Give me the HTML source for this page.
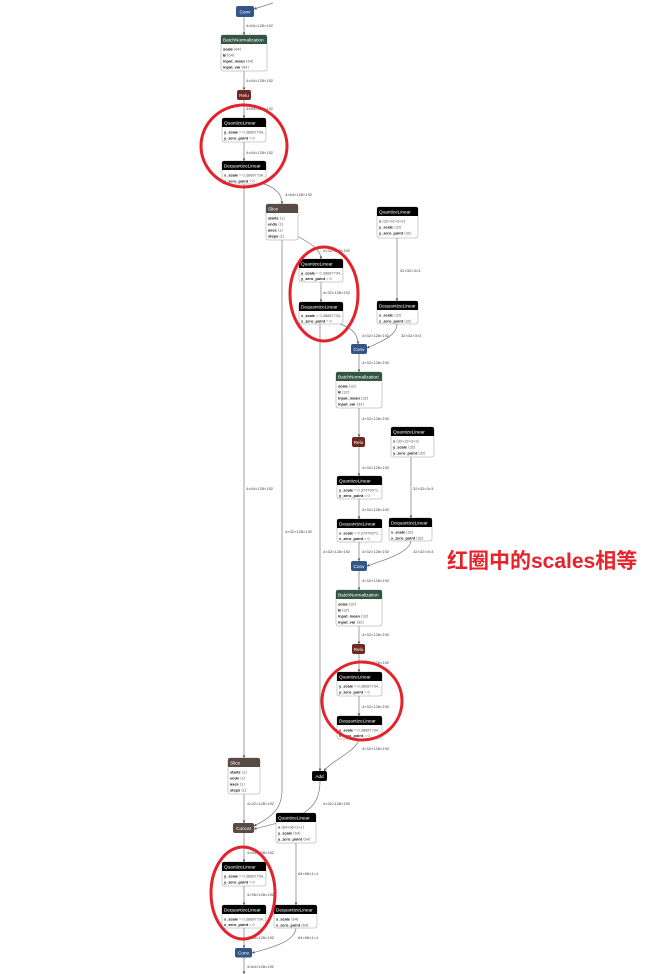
<!DOCTYPE html>
<html><head><meta charset="utf-8">
<style>
html,body{margin:0;padding:0;background:#fff;}
svg{display:block;}
.t{font-family:"Liberation Sans",sans-serif;font-size:4.7px;fill:#fff;}
.r{font-family:"Liberation Sans","DejaVu Sans",sans-serif;font-size:3.9px;fill:#111;font-weight:bold;}
.v{fill:#555;font-weight:normal;}
.l{font-family:"Liberation Sans","DejaVu Sans",sans-serif;font-size:4px;fill:#444;}
.e{fill:none;stroke:#777;stroke-width:0.7;}
.o{fill:#fff;stroke:#999;stroke-width:0.5;}
.c{fill:none;stroke:#e4222b;stroke-width:3;}
</style></head><body>
<svg width="651" height="974" viewBox="0 0 651 974" xmlns="http://www.w3.org/2000/svg">
<defs>
<marker id="a" viewBox="0 0 6 6" refX="5.5" refY="3" markerWidth="4" markerHeight="4" orient="auto"><path d="M0,0 L6,3 L0,6 Z" fill="#555"/></marker>
</defs>
<rect width="651" height="974" fill="#fff"/>

<!-- edges -->
<g class="e" marker-end="url(#a)">
<path d="M273 3 L254 9"/>
<path d="M244 17 V35"/>
<path d="M244 71 V90"/>
<path d="M244 100 V118"/>
<path d="M244 142 V161"/>
<path d="M244 184 V758"/>
<path d="M264 184 C276 188 282 194 282 204"/>
<path d="M282 240 V790 C282 810 270 818 254 826"/>
<path d="M297 236 C312 244 321 250 321 259"/>
<path d="M321 282 V302"/>
<path d="M320 324 V771"/>
<path d="M340 324 C352 328 358 334 358 344"/>
<path d="M397 238 V301"/>
<path d="M397 324 C397 336 380 342 367 348"/>
<path d="M359 354 V372"/>
<path d="M359 408 V437"/>
<path d="M359 447 V476"/>
<path d="M359 499 V519"/>
<path d="M359 542 V561"/>
<path d="M411 457 V518"/>
<path d="M411 541 C410 552 385 560 367 566"/>
<path d="M359 571 V590"/>
<path d="M359 626 V644"/>
<path d="M359 654 V672"/>
<path d="M359 696 V716"/>
<path d="M359 739 C356 752 332 760 324 771"/>
<path d="M320 781 C320 812 300 818 254 829"/>
<path d="M244 794 V823"/>
<path d="M244 833 V862"/>
<path d="M244 885 V905"/>
<path d="M244 928 V948"/>
<path d="M296 842 V905"/>
<path d="M296 928 C295 942 270 948 252 953"/>
<path d="M244 957 V974"/>
</g>

<!-- edge labels -->
<g class="l">
<text x="246" y="27">4×64×128×192</text>
<text x="246" y="82">4×64×128×192</text>
<text x="246" y="110">4×64×128×192</text>
<text x="246" y="154">4×64×128×192</text>
<text x="285" y="196">4×64×128×192</text>
<text x="323" y="252">4×32×128×192</text>
<text x="323" y="294">4×32×128×192</text>
<text x="400" y="272">32×32×3×3</text>
<text x="362" y="337">4×32×128×192</text>
<text x="401" y="337">32×32×3×3</text>
<text x="362" y="364">4×32×128×192</text>
<text x="362" y="420">4×32×128×192</text>
<text x="362" y="469">4×32×128×192</text>
<text x="362" y="511">4×32×128×192</text>
<text x="413" y="490">32×32×3×3</text>
<text x="246" y="490">4×64×128×192</text>
<text x="285" y="533">4×32×128×192</text>
<text x="323" y="553">4×32×128×192</text>
<text x="362" y="553">4×32×128×192</text>
<text x="413" y="553">32×32×3×3</text>
<text x="362" y="582">4×32×128×192</text>
<text x="362" y="636">4×32×128×192</text>
<text x="362" y="664">4×32×128×192</text>
<text x="362" y="708">4×32×128×192</text>
<text x="362" y="750">4×32×128×192</text>
<text x="247" y="805">4×32×128×192</text>
<text x="323" y="805">4×32×128×192</text>
<text x="247" y="854">4×64×128×192</text>
<text x="247" y="896">4×96×128×192</text>
<text x="298" y="875">64×96×1×1</text>
<text x="247" y="939">4×64×128×192</text>
<text x="298" y="939">64×96×1×1</text>
<text x="247" y="968">4×64×128×192</text>
</g>

<!-- simple nodes -->
<g>
<rect x="236" y="6" width="18" height="11" rx="2" fill="#335588"/><text class="t" x="245" y="13.3" text-anchor="middle">Conv</text>
<rect x="237" y="90" width="14" height="10" rx="2" fill="#702921"/><text class="t" x="244" y="96.8" text-anchor="middle">Relu</text>
<rect x="351" y="344" width="16" height="10" rx="2" fill="#335588"/><text class="t" x="359" y="350.8" text-anchor="middle">Conv</text>
<rect x="352" y="437" width="13" height="10" rx="2" fill="#702921"/><text class="t" x="358.5" y="443.8" text-anchor="middle">Relu</text>
<rect x="351" y="561" width="16" height="10" rx="2" fill="#335588"/><text class="t" x="359" y="567.8" text-anchor="middle">Conv</text>
<rect x="352" y="644" width="13" height="10" rx="2" fill="#702921"/><text class="t" x="358.5" y="650.8" text-anchor="middle">Relu</text>
<rect x="312" y="771" width="15" height="10" rx="2" fill="#000"/><text class="t" x="319.5" y="777.8" text-anchor="middle">Add</text>
<rect x="233" y="823" width="21" height="10" rx="2" fill="#594a44"/><text class="t" x="243.5" y="829.8" text-anchor="middle">Concat</text>
<rect x="235" y="948" width="17" height="9.5" rx="2" fill="#335588"/><text class="t" x="243.5" y="954.5" text-anchor="middle">Conv</text>
</g>

<!-- BN1 -->
<g transform="translate(221,35)">
<rect class="o" width="46" height="36" rx="2"/>
<path d="M0,9 V2 Q0,0 2,0 H44 Q46,0 46,2 V9 Z" fill="#335544"/>
<text class="t" x="2" y="6.6">BatchNormalization</text>
<text class="r" x="2" y="15.5">scale <tspan class="v">⟨64⟩</tspan></text>
<text class="r" x="2" y="21.5">B <tspan class="v">⟨64⟩</tspan></text>
<text class="r" x="2" y="27.5">input_mean <tspan class="v">⟨64⟩</tspan></text>
<text class="r" x="2" y="33.5">input_var <tspan class="v">⟨64⟩</tspan></text>
</g>
<!-- QL1 -->
<g transform="translate(222,118)">
<rect class="o" width="44" height="24" rx="2"/>
<path d="M0,9 V2 Q0,0 2,0 H42 Q44,0 44,2 V9 Z" fill="#000"/>
<text class="t" x="2" y="6.6">QuantizeLinear</text>
<text class="r" x="2" y="15.5">y_scale <tspan class="v">= 0.38687734...</tspan></text>
<text class="r" x="2" y="21.5">y_zero_point <tspan class="v">= 0</tspan></text>
</g>
<!-- DQL1 -->
<g transform="translate(222,161)">
<rect class="o" width="44" height="23" rx="2"/>
<path d="M0,9 V2 Q0,0 2,0 H42 Q44,0 44,2 V9 Z" fill="#000"/>
<text class="t" x="2" y="6.6">DequantizeLinear</text>
<text class="r" x="2" y="15.5">x_scale <tspan class="v">= 0.38687734...</tspan></text>
<text class="r" x="2" y="21.5">x_zero_point <tspan class="v">= 0</tspan></text>
</g>
<!-- Slice1 -->
<g transform="translate(266,204)">
<rect class="o" width="32" height="36" rx="2"/>
<path d="M0,9 V2 Q0,0 2,0 H30 Q32,0 32,2 V9 Z" fill="#594a44"/>
<text class="t" x="2" y="6.6">Slice</text>
<text class="r" x="2" y="15.5">starts <tspan class="v">⟨1⟩</tspan></text>
<text class="r" x="2" y="21.5">ends <tspan class="v">⟨1⟩</tspan></text>
<text class="r" x="2" y="27.5">axes <tspan class="v">⟨1⟩</tspan></text>
<text class="r" x="2" y="33.5">steps <tspan class="v">⟨1⟩</tspan></text>
</g>
<!-- QLr1 -->
<g transform="translate(377,207)">
<rect class="o" width="41" height="31" rx="2"/>
<path d="M0,9 V2 Q0,0 2,0 H39 Q41,0 41,2 V9 Z" fill="#000"/>
<text class="t" x="2" y="6.6">QuantizeLinear</text>
<text class="r" x="2" y="15.5">x <tspan class="v">⟨32×32×3×3⟩</tspan></text>
<text class="r" x="2" y="21.5">y_scale <tspan class="v">⟨32⟩</tspan></text>
<text class="r" x="2" y="27.5">y_zero_point <tspan class="v">⟨32⟩</tspan></text>
</g>
<!-- QL2 -->
<g transform="translate(299,259)">
<rect class="o" width="44" height="23" rx="2"/>
<path d="M0,9 V2 Q0,0 2,0 H42 Q44,0 44,2 V9 Z" fill="#000"/>
<text class="t" x="2" y="6.6">QuantizeLinear</text>
<text class="r" x="2" y="15.5">y_scale <tspan class="v">= 0.38687734...</tspan></text>
<text class="r" x="2" y="21">y_zero_point <tspan class="v">= 0</tspan></text>
</g>
<!-- DQL2 -->
<g transform="translate(299,302)">
<rect class="o" width="44" height="22" rx="2"/>
<path d="M0,9 V2 Q0,0 2,0 H42 Q44,0 44,2 V9 Z" fill="#000"/>
<text class="t" x="2" y="6.6">DequantizeLinear</text>
<text class="r" x="2" y="15">x_scale <tspan class="v">= 0.38687734...</tspan></text>
<text class="r" x="2" y="20.5">x_zero_point <tspan class="v">= 0</tspan></text>
</g>
<!-- DQLr1 -->
<g transform="translate(377,301)">
<rect class="o" width="41" height="23" rx="2"/>
<path d="M0,9 V2 Q0,0 2,0 H39 Q41,0 41,2 V9 Z" fill="#000"/>
<text class="t" x="2" y="6.6">DequantizeLinear</text>
<text class="r" x="2" y="15.5">x_scale <tspan class="v">⟨32⟩</tspan></text>
<text class="r" x="2" y="21.5">x_zero_point <tspan class="v">⟨32⟩</tspan></text>
</g>
<!-- BN2 -->
<g transform="translate(336,372)">
<rect class="o" width="46" height="36" rx="2"/>
<path d="M0,9 V2 Q0,0 2,0 H44 Q46,0 46,2 V9 Z" fill="#335544"/>
<text class="t" x="2" y="6.6">BatchNormalization</text>
<text class="r" x="2" y="15.5">scale <tspan class="v">⟨32⟩</tspan></text>
<text class="r" x="2" y="21.5">B <tspan class="v">⟨32⟩</tspan></text>
<text class="r" x="2" y="27.5">input_mean <tspan class="v">⟨32⟩</tspan></text>
<text class="r" x="2" y="33.5">input_var <tspan class="v">⟨32⟩</tspan></text>
</g>
<!-- QLr2 -->
<g transform="translate(391,427)">
<rect class="o" width="43" height="30" rx="2"/>
<path d="M0,9 V2 Q0,0 2,0 H41 Q43,0 43,2 V9 Z" fill="#000"/>
<text class="t" x="2" y="6.6">QuantizeLinear</text>
<text class="r" x="2" y="15.5">x <tspan class="v">⟨32×32×3×3⟩</tspan></text>
<text class="r" x="2" y="21.5">y_scale <tspan class="v">⟨32⟩</tspan></text>
<text class="r" x="2" y="27.5">y_zero_point <tspan class="v">⟨32⟩</tspan></text>
</g>
<!-- QL3 -->
<g transform="translate(337,476)">
<rect class="o" width="45" height="23" rx="2"/>
<path d="M0,9 V2 Q0,0 2,0 H43 Q45,0 45,2 V9 Z" fill="#000"/>
<text class="t" x="2" y="6.6">QuantizeLinear</text>
<text class="r" x="2" y="15.5">y_scale <tspan class="v">= 0.37479071...</tspan></text>
<text class="r" x="2" y="21">y_zero_point <tspan class="v">= 0</tspan></text>
</g>
<!-- DQL3 -->
<g transform="translate(337,519)">
<rect class="o" width="45" height="23" rx="2"/>
<path d="M0,9 V2 Q0,0 2,0 H43 Q45,0 45,2 V9 Z" fill="#000"/>
<text class="t" x="2" y="6.6">DequantizeLinear</text>
<text class="r" x="2" y="15.5">x_scale <tspan class="v">= 0.37479071...</tspan></text>
<text class="r" x="2" y="21">x_zero_point <tspan class="v">= 0</tspan></text>
</g>
<!-- DQLr2 -->
<g transform="translate(389,518)">
<rect class="o" width="43" height="23" rx="2"/>
<path d="M0,9 V2 Q0,0 2,0 H41 Q43,0 43,2 V9 Z" fill="#000"/>
<text class="t" x="2" y="6.6">DequantizeLinear</text>
<text class="r" x="2" y="15.5">x_scale <tspan class="v">⟨32⟩</tspan></text>
<text class="r" x="2" y="21.5">x_zero_point <tspan class="v">⟨32⟩</tspan></text>
</g>
<!-- BN3 -->
<g transform="translate(336,590)">
<rect class="o" width="46" height="36" rx="2"/>
<path d="M0,9 V2 Q0,0 2,0 H44 Q46,0 46,2 V9 Z" fill="#335544"/>
<text class="t" x="2" y="6.6">BatchNormalization</text>
<text class="r" x="2" y="15.5">scale <tspan class="v">⟨32⟩</tspan></text>
<text class="r" x="2" y="21.5">B <tspan class="v">⟨32⟩</tspan></text>
<text class="r" x="2" y="27.5">input_mean <tspan class="v">⟨32⟩</tspan></text>
<text class="r" x="2" y="33.5">input_var <tspan class="v">⟨32⟩</tspan></text>
</g>
<!-- QL4 -->
<g transform="translate(337,672)">
<rect class="o" width="45" height="24" rx="2"/>
<path d="M0,9 V2 Q0,0 2,0 H43 Q45,0 45,2 V9 Z" fill="#000"/>
<text class="t" x="2" y="6.6">QuantizeLinear</text>
<text class="r" x="2" y="15.5">y_scale <tspan class="v">= 0.38687734...</tspan></text>
<text class="r" x="2" y="21.5">y_zero_point <tspan class="v">= 0</tspan></text>
</g>
<!-- DQL4 -->
<g transform="translate(337,716)">
<rect class="o" width="45" height="23" rx="2"/>
<path d="M0,9 V2 Q0,0 2,0 H43 Q45,0 45,2 V9 Z" fill="#000"/>
<text class="t" x="2" y="6.6">DequantizeLinear</text>
<text class="r" x="2" y="15.5">x_scale <tspan class="v">= 0.38687734...</tspan></text>
<text class="r" x="2" y="21">x_zero_point <tspan class="v">= 0</tspan></text>
</g>
<!-- Slice2 -->
<g transform="translate(228,758)">
<rect class="o" width="32" height="36" rx="2"/>
<path d="M0,9 V2 Q0,0 2,0 H30 Q32,0 32,2 V9 Z" fill="#594a44"/>
<text class="t" x="2" y="6.6">Slice</text>
<text class="r" x="2" y="15.5">starts <tspan class="v">⟨1⟩</tspan></text>
<text class="r" x="2" y="21.5">ends <tspan class="v">⟨1⟩</tspan></text>
<text class="r" x="2" y="27.5">axes <tspan class="v">⟨1⟩</tspan></text>
<text class="r" x="2" y="33.5">steps <tspan class="v">⟨1⟩</tspan></text>
</g>
<!-- QLc -->
<g transform="translate(276,813)">
<rect class="o" width="40" height="30" rx="2"/>
<path d="M0,9 V2 Q0,0 2,0 H38 Q40,0 40,2 V9 Z" fill="#000"/>
<text class="t" x="2" y="6.6">QuantizeLinear</text>
<text class="r" x="2" y="15.5">x <tspan class="v">⟨64×96×1×1⟩</tspan></text>
<text class="r" x="2" y="21.5">y_scale <tspan class="v">⟨64⟩</tspan></text>
<text class="r" x="2" y="27.5">y_zero_point <tspan class="v">⟨64⟩</tspan></text>
</g>
<!-- QL5 -->
<g transform="translate(222,862)">
<rect class="o" width="44" height="24" rx="2"/>
<path d="M0,9 V2 Q0,0 2,0 H42 Q44,0 44,2 V9 Z" fill="#000"/>
<text class="t" x="2" y="6.6">QuantizeLinear</text>
<text class="r" x="2" y="15.5">y_scale <tspan class="v">= 0.38687734...</tspan></text>
<text class="r" x="2" y="21.5">y_zero_point <tspan class="v">= 0</tspan></text>
</g>
<!-- DQL5 -->
<g transform="translate(222,905)">
<rect class="o" width="44" height="23" rx="2"/>
<path d="M0,9 V2 Q0,0 2,0 H42 Q44,0 44,2 V9 Z" fill="#000"/>
<text class="t" x="2" y="6.6">DequantizeLinear</text>
<text class="r" x="2" y="15.5">x_scale <tspan class="v">= 0.38687734...</tspan></text>
<text class="r" x="2" y="21">x_zero_point <tspan class="v">= 0</tspan></text>
</g>
<!-- DQLc -->
<g transform="translate(274,905)">
<rect class="o" width="43" height="23" rx="2"/>
<path d="M0,9 V2 Q0,0 2,0 H41 Q43,0 43,2 V9 Z" fill="#000"/>
<text class="t" x="2" y="6.6">DequantizeLinear</text>
<text class="r" x="2" y="15.5">x_scale <tspan class="v">⟨64⟩</tspan></text>
<text class="r" x="2" y="21.5">x_zero_point <tspan class="v">⟨64⟩</tspan></text>
</g>

<!-- red ellipses -->
<ellipse class="c" cx="244" cy="146" rx="43" ry="41"/>
<ellipse class="c" cx="324" cy="294" rx="34" ry="47"/>
<ellipse class="c" cx="362" cy="701" rx="40" ry="39"/>
<ellipse class="c" cx="243" cy="893" rx="32" ry="46"/>

<text x="447" y="568" font-family="'Liberation Sans','Noto Sans CJK SC',sans-serif" font-size="21" font-weight="bold" fill="#e8212a">红圈中的scales相等</text>
</svg>
</body></html>
